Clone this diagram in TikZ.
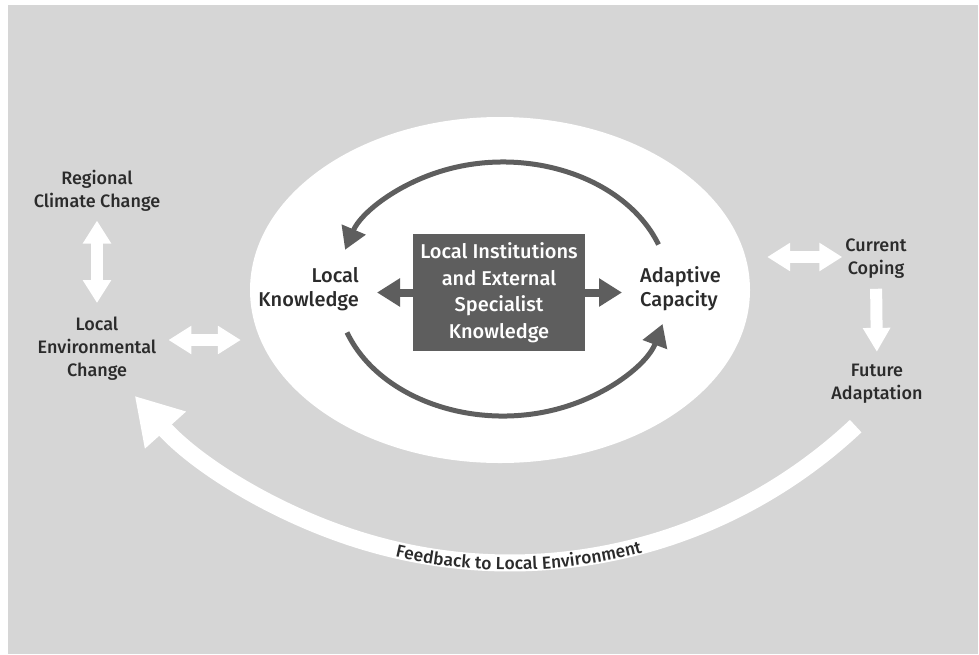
\documentclass[tikz,border=0pt]{standalone}
\usepackage{fontspec}
\setmainfont{Fira Sans}[UprightFont=* Medium]
\usepackage{tikz}
\usetikzlibrary{shapes.geometric, arrows.meta, positioning, calc, decorations.text}
\definecolor{panelgray}{HTML}{D6D6D6}
\definecolor{boxgray}{HTML}{5E5E5E}
\definecolor{inkgray}{HTML}{2B2B2B}
\tikzstyle{labelnode} = [inner sep=0pt, align=center, text=inkgray, font=\fontsize{18}{23}\selectfont]
\tikzstyle{innerlabel} = [inner sep=0pt, text=inkgray, font=\fontsize{20}{24}\selectfont]
\tikzstyle{centrenode} = [rectangle, inner sep=0pt, minimum width=172pt, minimum height=117pt, fill=boxgray, text=white, align=center, font=\fontsize{20}{26.5}\selectfont]
\tikzstyle{ringnode} = [ellipse, inner sep=0pt, fill=white, minimum width=500pt, minimum height=346pt]
\tikzstyle{darkarrw} = [line width=8pt, draw=boxgray, -{Triangle[length=23pt, width=27pt]}]
\tikzstyle{looparrw} = [line width=5pt, draw=boxgray, -{Triangle[length=22pt, width=25pt]}]
\tikzstyle{whitearrw} = [line width=12pt, draw=white, {Triangle[length=23pt, width=27pt]}-{Triangle[length=23pt, width=27pt]}]
\tikzstyle{downarrw} = [line width=12pt, draw=white, -{Triangle[length=24pt, width=26pt]}]
\tikzstyle{feedarrw} = [line width=17pt, draw=white, -{Triangle[length=46pt, width=52pt]}]

\begin{document}
\begin{tikzpicture}[x=1pt, y=-1pt]
    \useasboundingbox (0,0) rectangle (979,654);
    \fill[panelgray] (8,5) rectangle (978,654);

    % Inner loop
    \node (ring) [ringnode] at (500,290) {};
    \node (centre) [centrenode] at (499,292.5) {Local Institutions\\and External\\Specialist\\Knowledge};
    \node (know) [innerlabel, align=right, anchor=east] at (359,289) {Local\\Knowledge};
    \node (adapt) [innerlabel, align=left, anchor=west] at (640,289) {Adaptive\\Capacity};
    \draw [darkarrw, shorten >=18pt] (centre.west) -- (centre.west -| know.east);
    \draw [darkarrw, shorten >=18pt] (centre.east) -- (centre.east -| adapt.west);
    \coordinate (loopc) at (503,289);
    \coordinate (looptop) at ($(loopc)+(-20.5:166 and 127)$);
    \coordinate (loopbot) at ($(loopc)+(160:166 and 127)$);
    \draw [looparrw] (looptop) arc[start angle=-20.5, end angle=-162, x radius=166, y radius=127];
    \draw [looparrw] (loopbot) arc[start angle=160, end angle=16, x radius=166, y radius=127];

    % Left side
    \node (regional) [labelnode] at (97,190.75) {Regional\\Climate Change};
    \node (localenv) [labelnode] at (97,349) {Local\\Environmental\\Change};
    \draw [whitearrw, shorten <=9pt, shorten >=14pt] (regional) -- (localenv);
    \draw [whitearrw, shorten <=12pt, shorten >=9pt] (localenv.east |- 0,340) -- (ring.west |- 0,340);

    % Right side
    \node (coping) [labelnode] at (876,258.75) {Current\\Coping};
    \node (future) [labelnode] at (877,383.75) {Future\\Adaptation};
    \draw [whitearrw, shorten <=17pt, shorten >=3pt] (ring.east |- 0,257) -- (coping.west |- 0,257);
    \draw [downarrw, shorten <=10pt, shorten >=12pt] (coping.south) -- (future.north);

    % Feedback
    \coordinate (feedc) at (510,58);
    \coordinate (feedstart) at ($(feedc)+(46.8:505)$);
    \draw [feedarrw] (feedstart) arc[start angle=46.8, end angle=138, radius=505];
    \path [decorate, decoration={text along path, text align=center, text={|\color{inkgray}\fontsize{17.5}{18}\selectfont|Feedback to Local Environment}}]
        ($(feedc)+(119:512)$) arc[start angle=119, end angle=59, radius=512];
\end{tikzpicture}
\end{document}
